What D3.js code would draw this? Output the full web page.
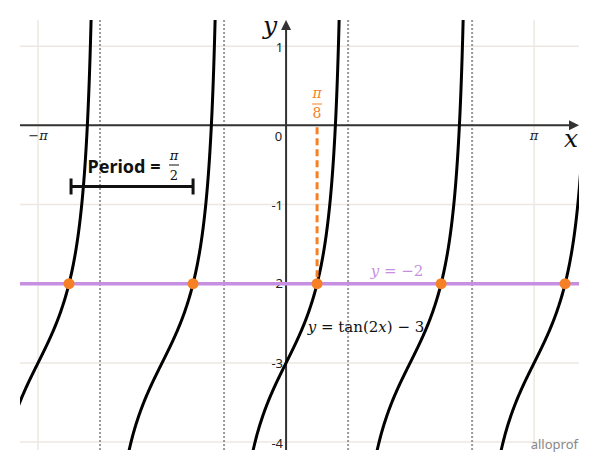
<!DOCTYPE html>
<html><head><meta charset="utf-8">
<script src="https://cdn.jsdelivr.net/npm/d3@7"></script>
<style>body{margin:0;background:#fff}svg{display:block}</style>
</head><body>
<svg id="c" width="600" height="470"></svg>
<script>
const PI = Math.PI;
// function y = A*tan(B*x) + K
const funcParams = [1, 2, -3];           // A, B, K
const lineY = [-2];                       // horizontal line y = -2
const yTicks = [1, 0, -1, -2, -3, -4];
const yTickLabels = ["1", "0", "-1", "-2", "-3", "-4"];
const xTicks = [-PI, PI];
const xTickLabels = ["\u2212\u03c0", "\u03c0"];
const xGrid = [-PI, 0, PI];
const yGrid = [1, 0, -1, -2, -3, -4];
const asymptotes = [-3*PI/4, -PI/4, PI/4, 3*PI/4];
const intersections = [-7*PI/8, -3*PI/8, PI/8, 5*PI/8, 9*PI/8];
const periodBar = [-7*PI/8, -3*PI/8];
const markX = [PI/8];

const SERIF = "'DejaVu Serif', 'Liberation Serif', serif";
const svg = d3.select("#c");
const x = d3.scaleLinear().domain([-3.37, 3.71]).range([20, 579]);
const y = d3.scaleLinear().domain([1.33, -4.1]).range([20, 450]);
const [A, B, K] = funcParams;
const f = t => A*Math.tan(B*t) + K;

svg.append("defs").append("clipPath").attr("id","clip")
  .append("rect").attr("x",20).attr("y",20).attr("width",559).attr("height",430);

// grid
const g = svg.append("g");
g.selectAll(".vg").data(xGrid).join("line")
  .attr("x1", d=>x(d)).attr("x2", d=>x(d)).attr("y1", 20).attr("y2", 450)
  .attr("stroke", "#ece7e2").attr("stroke-width", 1.5);
g.selectAll(".hg").data(yGrid).join("line")
  .attr("y1", d=>y(d)).attr("y2", d=>y(d)).attr("x1", 20).attr("x2", 579)
  .attr("stroke", "#ece7e2").attr("stroke-width", 1.5);

// asymptotes
g.selectAll(".as").data(asymptotes).join("line")
  .attr("x1", d=>x(d)).attr("x2", d=>x(d)).attr("y1", 20).attr("y2", 450)
  .attr("stroke", "#9a9a9a").attr("stroke-width", 2).attr("stroke-dasharray", "2,2");

// axes
const axCol = "#333";
svg.append("line").attr("x1",20).attr("x2",572).attr("y1",y(0)).attr("y2",y(0))
  .attr("stroke",axCol).attr("stroke-width",2);
svg.append("path").attr("d",`M579,${y(0)} L569,${y(0)-5} L569,${y(0)+5} Z`).attr("fill",axCol);
svg.append("line").attr("x1",x(0)).attr("x2",x(0)).attr("y1",28).attr("y2",450)
  .attr("stroke",axCol).attr("stroke-width",2);
svg.append("path").attr("d",`M${x(0)},20 L${x(0)-5},30 L${x(0)+5},30 Z`).attr("fill",axCol);

// tick labels
svg.selectAll(".yt").data(yTicks).join("text")
  .attr("x", (d,i)=> d===0 ? x(0)-4 : x(0)-3)
  .attr("y", d=> d===0 ? y(0)+16 : (d===-2 ? y(d)+4.5 : y(d)+5.5))
  .attr("text-anchor","end")
  .attr("font-family","'Noto Sans', sans-serif").attr("font-size",13).attr("fill","#222")
  .text((d,i)=>yTickLabels[i]);
svg.selectAll(".xt").data(xTicks).join("text")
  .attr("x", d=>x(d)).attr("y", y(0)+15)
  .attr("text-anchor","middle")
  .attr("font-family",SERIF).attr("font-style","italic").attr("font-size",13).attr("fill","#222")
  .text((d,i)=>xTickLabels[i]);

// axis titles
svg.append("text").attr("x",571).attr("y",147).attr("text-anchor","middle")
  .attr("font-family",SERIF).attr("font-style","italic").attr("font-size",25).attr("fill","#111").text("x");
svg.append("text").attr("x",270).attr("y",34).attr("text-anchor","middle")
  .attr("font-family",SERIF).attr("font-style","italic").attr("font-size",25).attr("fill","#111").text("y");

// purple line
svg.selectAll(".hl").data(lineY).join("line")
  .attr("x1",20).attr("x2",579).attr("y1",d=>y(d)).attr("y2",d=>y(d))
  .attr("stroke","#c68fe2").attr("stroke-width",3.5);

// curves
const branches = [];
for (let k = -3; k <= 3; k++) {
  const a0 = -PI/4 + k*PI/2, a1 = PI/4 + k*PI/2;
  const pts = [];
  const n = 300;
  for (let i = 1; i < n; i++) {
    const t = a0 + (a1 - a0)*i/n;
    if (t < -3.5 || t > 3.8) continue;
    const v = f(t);
    if (v > 2.5 || v < -10) continue;
    pts.push([t, v]);
  }
  if (pts.length) branches.push(pts);
}
const line = d3.line().x(d=>x(d[0])).y(d=>y(d[1]));
svg.append("g").attr("clip-path","url(#clip)").selectAll("path").data(branches).join("path")
  .attr("d", line).attr("fill","none").attr("stroke","#000").attr("stroke-width",3);

// orange dashed
const orange = "#f58025";
svg.selectAll(".od").data(markX).join("line")
  .attr("x1",d=>x(d)).attr("x2",d=>x(d)).attr("y1",y(0)+2).attr("y2",d=>y(f(d)))
  .attr("stroke",orange).attr("stroke-width",3).attr("stroke-dasharray","7,4");

// points
svg.selectAll(".pt").data(intersections).join("circle")
  .attr("cx",d=>x(d)).attr("cy",d=>y(f(d))).attr("r",5.5).attr("fill",orange);

// pi/8 label
const fr = svg.append("g").attr("fill",orange).attr("font-family",SERIF).attr("font-size",14).attr("text-anchor","middle");
fr.append("text").attr("x",x(markX[0])).attr("y",98).attr("font-style","italic").text("\u03c0");
fr.append("line").attr("x1",x(markX[0])-5).attr("x2",x(markX[0])+5).attr("y1",104).attr("y2",104).attr("stroke",orange).attr("stroke-width",1);
fr.append("text").attr("x",x(markX[0])).attr("y",118).text("8");

// period
const pb = svg.append("g").attr("stroke","#111").attr("stroke-width",3);
const pyb = 186.5;
pb.append("line").attr("x1",x(periodBar[0])+2).attr("x2",x(periodBar[1])).attr("y1",pyb).attr("y2",pyb);
pb.selectAll(".e").data(periodBar).join("line")
  .attr("x1",(d,i)=>x(d)+(i?0:2)).attr("x2",(d,i)=>x(d)+(i?0:2)).attr("y1",pyb-8).attr("y2",pyb+8);
svg.append("text").attr("x",124).attr("y",173).attr("text-anchor","middle")
  .attr("font-family","'Noto Sans', sans-serif").attr("font-weight","bold").attr("font-size",18).attr("fill","#111")
  .text("Period =");
const pf = svg.append("g").attr("fill","#111").attr("font-family",SERIF).attr("font-size",13).attr("text-anchor","middle");
pf.append("text").attr("x",174).attr("y",160).attr("font-style","italic").text("\u03c0");
pf.append("line").attr("x1",169).attr("x2",179).attr("y1",165).attr("y2",165).attr("stroke","#111").attr("stroke-width",1);
pf.append("text").attr("x",174).attr("y",180).text("2");

// labels
const lbl1 = svg.append("text").attr("x",397).attr("y",276).attr("text-anchor","middle")
  .attr("font-family",SERIF).attr("font-size",15).attr("fill","#c68fe2");
lbl1.append("tspan").attr("font-style","italic").text("y");
lbl1.append("tspan").text(" = \u22122");
const lbl2 = svg.append("text").attr("x",366).attr("y",332).attr("text-anchor","middle")
  .attr("font-family",SERIF).attr("font-size",15).attr("fill","#111");
lbl2.append("tspan").attr("font-style","italic").text("y");
lbl2.append("tspan").text(" = tan(2");
lbl2.append("tspan").attr("font-style","italic").text("x");
lbl2.append("tspan").text(") \u2212 3");

// watermark
svg.append("text").attr("x",578).attr("y",449).attr("text-anchor","end")
  .attr("font-family","'Noto Sans', sans-serif").attr("font-size",13).attr("fill","#888").text("alloprof");
</script>
</body></html>
